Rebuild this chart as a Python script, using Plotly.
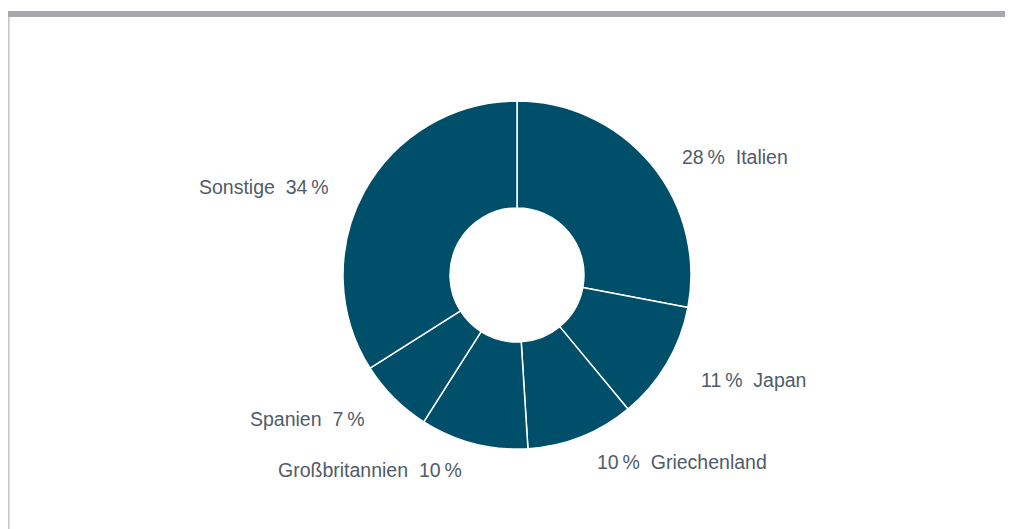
import math
import plotly.graph_objects as go

labels = ["Italien", "Japan", "Griechenland", "Großbritannien", "Spanien", "Sonstige"]
values = [28, 11, 10, 10, 7, 34]

W, H = 1013, 529
OFF = 8  # page body margin in the browser
CX_PAGE, CY_PAGE, R_PAGE = 517, 275, 174
cx = CX_PAGE - OFF
cy = CY_PAGE - OFF
DOM_X = [(cx - R_PAGE) / W, (cx + R_PAGE) / W]
DOM_Y = [1 - (cy + R_PAGE) / H, 1 - (cy - R_PAGE) / H]
HOLE = 0.385
SLICE_COLOR = "#004f6a"
TEXT_COLOR = "#505c68"
FONT = "Liberation Sans, Arial, sans-serif"
LABEL_RX = 212  # px from center, horizontal
LABEL_RY = 195  # px from center, vertical
LABEL_YSHIFT = -6

fig = go.Figure(go.Pie(
    labels=labels,
    values=values,
    sort=False,
    direction="clockwise",
    rotation=0,
    hole=HOLE,
    marker=dict(colors=[SLICE_COLOR] * len(values), line=dict(color="white", width=1.5)),
    textinfo="none",
    hoverinfo="label+percent",
    domain=dict(x=DOM_X, y=DOM_Y),
    showlegend=False,
))

total = sum(values)
cum = 0
annotations = []
for lab, v in zip(labels, values):
    mid = (cum + v / 2) / total * 2 * math.pi
    cum += v
    s, c = math.sin(mid), math.cos(mid)
    px = cx + LABEL_RX * s
    py = cy - LABEL_RY * c
    pct = round(v / total * 100)
    if s >= 0:
        txt = f"{pct}\u2009%\u00a0\u00a0{lab}"
        xa = "left"
    else:
        txt = f"{lab}\u00a0\u00a0{pct}\u2009%"
        xa = "right"
    annotations.append(dict(
        x=px / W, y=1 - py / H, xref="paper", yref="paper",
        text=txt, showarrow=False, xanchor=xa, yanchor="middle",
        yshift=LABEL_YSHIFT,
        font=dict(family=FONT, size=19.5, color=TEXT_COLOR),
    ))

fig.update_layout(
    width=W, height=H,
    margin=dict(l=0, r=0, t=0, b=0),
    paper_bgcolor="white",
    plot_bgcolor="white",
    annotations=annotations,
    shapes=[
        dict(type="rect", xref="paper", yref="paper",
             x0=0, x1=1, y0=1 - (17 - OFF) / H, y1=1 - (11 - OFF) / H,
             fillcolor="#a8a8ac", line=dict(width=0)),
        dict(type="line", xref="paper", yref="paper",
             x0=0.8 / W, x1=0.8 / W, y0=0, y1=1 - (17 - OFF) / H,
             line=dict(color="#c6c6c6", width=1.6)),
    ],
)

fig.write_html("out.html")
